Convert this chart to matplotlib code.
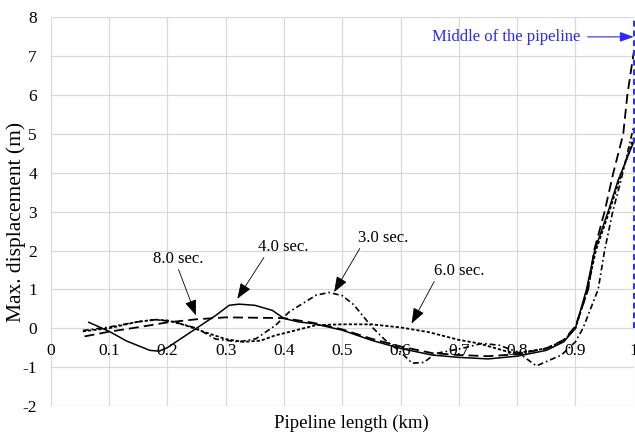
import numpy as np
import matplotlib.pyplot as plt

plt.rcParams['font.family'] = ['Liberation Serif', 'DejaVu Serif']
plt.rcParams['axes.unicode_minus'] = False

# 4.0 sec (solid)
x4 = [0.064, 0.10, 0.13, 0.17, 0.186, 0.20, 0.25, 0.283, 0.306, 0.323, 0.35, 0.38, 0.40, 0.426,
      0.45, 0.50, 0.55, 0.60, 0.654, 0.70, 0.75, 0.80, 0.85, 0.88, 0.90, 0.919, 0.933, 0.956,
      0.973, 1.0]
y4 = [0.16, -0.08, -0.33, -0.57, -0.59, -0.5, 0.0, 0.33, 0.59, 0.62, 0.59, 0.46, 0.25, 0.16,
      0.12, -0.05, -0.31, -0.52, -0.69, -0.75, -0.79, -0.72, -0.57, -0.35, 0.0, 1.0, 2.0, 3.0,
      3.8, 4.8]

# 8.0 sec (long dash)
x8 = [0.058, 0.10, 0.152, 0.20, 0.25, 0.30, 0.35, 0.40, 0.45, 0.50, 0.55, 0.60, 0.654, 0.70,
      0.75, 0.80, 0.85, 0.88, 0.90, 0.922, 0.932, 0.95, 0.965, 0.982, 0.989, 1.0]
y8 = [-0.21, -0.09, 0.03, 0.15, 0.23, 0.28, 0.27, 0.26, 0.14, -0.03, -0.27, -0.47, -0.64, -0.69,
      -0.72, -0.67, -0.52, -0.3, 0.05, 1.0, 2.0, 3.0, 4.0, 5.0, 6.0, 7.1]

# 3.0 sec (dash-dot)
x3 = [0.055, 0.10, 0.147, 0.18, 0.21, 0.25, 0.283, 0.323, 0.352, 0.386, 0.409, 0.455, 0.477,
      0.50, 0.52, 0.551, 0.574, 0.597, 0.62, 0.64, 0.66, 0.688, 0.705, 0.74, 0.77, 0.80, 0.833,
      0.876, 0.90, 0.913, 0.939, 0.95, 0.964, 0.978, 1.0]
y3 = [-0.06, 0.03, 0.16, 0.22, 0.17, 0.0, -0.28, -0.35, -0.27, 0.08, 0.42, 0.85, 0.92,
      0.84, 0.6, 0.03, -0.31, -0.57, -0.9, -0.88, -0.65, -0.57, -0.52, -0.39, -0.44, -0.61, -0.97,
      -0.69, -0.35, 0.0, 1.0, 2.0, 3.0, 3.8, 5.2]

# 6.0 sec (short dash)
x6 = [0.055, 0.10, 0.15, 0.18, 0.20, 0.23, 0.26, 0.30, 0.33, 0.36, 0.386, 0.40, 0.455, 0.50,
      0.55, 0.60, 0.648, 0.70, 0.734, 0.785, 0.80, 0.85, 0.88, 0.90, 0.92, 0.935, 0.958, 0.975, 1.0]
y6 = [-0.08, 0.0, 0.17, 0.22, 0.2, 0.08, -0.08, -0.28, -0.35, -0.32, -0.18, -0.13, 0.08, 0.1,
      0.1, 0.02, -0.1, -0.3, -0.39, -0.61, -0.64, -0.52, -0.32, 0.0, 0.95, 2.0, 3.0, 3.8, 4.9]

xticks = [0, 0.1, 0.2, 0.3, 0.4, 0.5, 0.6, 0.7, 0.8, 0.9, 1.0]
xticklabels = ['0', '0.1', '0.2', '0.3', '0.4', '0.5', '0.6', '0.7', '0.8', '0.9', '1']
yticks = list(range(-2, 9))

fig = plt.figure(figsize=(6.35, 4.36), dpi=100)
ax = fig.add_axes([0.080, 0.069, 0.918, 0.891])

ax.plot(x4, y4, color='black', lw=1.1, solid_capstyle='butt')
ax.plot(x8, y8, color='black', lw=1.3, dashes=(5.5, 2.8))
ax.plot(x3, y3, color='black', lw=1.2, dashes=(3.5, 1.8, 1, 1.8))
ax.plot(x6, y6, color='black', lw=1.3, dashes=(1.8, 1.1))

# middle of the pipeline
ax.plot([1.0, 1.0], [0, 8], color='#2a2aff', lw=1.4, dashes=(3, 2), clip_on=False)
ax.annotate('Middle of the pipeline', xy=(1.0, 7.5), xytext=(0.909, 7.5),
            ha='right', va='center', fontsize=12, color='#2a2aff',
            arrowprops=dict(arrowstyle='-|>,head_length=0.7,head_width=0.25',
                            color='#2a2aff', lw=0.8, shrinkA=3, shrinkB=0),
            annotation_clip=False)

# time labels
labels = [('8.0 sec.', (0.249, 0.33), (0.219, 1.79), (0.48, 0)),
          ('4.0 sec.', (0.320, 0.76), (0.399, 2.10), (0.15, 0)),
          ('3.0 sec.', (0.486, 0.93), (0.570, 2.33), (0.07, 0)),
          ('6.0 sec.', (0.619, 0.12), (0.701, 1.48), (0.03, 0))]
for txt, xy, xyt, rp in labels:
    ax.annotate(txt, xy=xy, xytext=xyt, ha='center', va='center', fontsize=12,
                arrowprops=dict(arrowstyle='-|>,head_length=0.8,head_width=0.3',
                                color='black', lw=0.6, shrinkA=0, shrinkB=0, relpos=rp))

ax.set_xlim(0, 1.0)
ax.set_ylim(-2, 8)
ax.set_xticks(xticks)
ax.set_xticklabels(xticklabels)
ax.set_yticks(yticks)
ax.grid(True, color='#d9d9d9', lw=0.9)
ax.set_axisbelow(True)
for s in ['top', 'right', 'left']:
    ax.spines[s].set_visible(False)
ax.spines['bottom'].set_position(('data', 0))
ax.spines['bottom'].set_visible(False)
ax.tick_params(axis='both', length=0, labelsize=12.5)
ax.tick_params(axis='x', pad=11)
ax.tick_params(axis='y', pad=10)

fig.text(0.026, 0.49, 'Max. displacement (m)', rotation=90, ha='center', va='center', fontsize=15.5)
fig.text(0.553, 0.028, 'Pipeline length (km)', ha='center', va='center', fontsize=13.5)

fig.savefig('out.png', dpi=100)
